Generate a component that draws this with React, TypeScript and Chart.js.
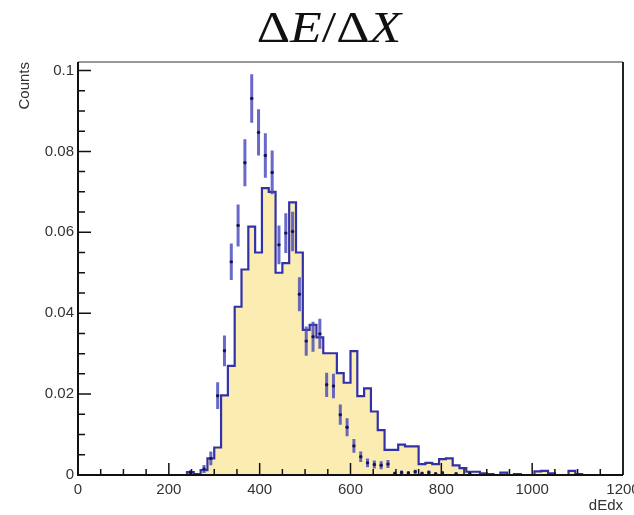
import React, { useEffect, useRef } from 'react';
import { Chart, registerables } from 'chart.js';

Chart.register(...registerables);

// Histogram binning (80 bins, 0..1200)
const BIN_LOW = 0;
const BIN_WIDTH = 15;

// Filled histogram contents per bin (bin 0 .. 79)
const HIST_VALUES = [
  0, 0, 0, 0, 0, 0, 0, 0, 0, 0, 0, 0, 0, 0, 0, 0,
  0.0007, 0.0002, 0.0012, 0.0041, 0.0068, 0.0197, 0.027, 0.0416, 0.0508, 0.0614,
  0.055, 0.0709, 0.07, 0.05, 0.0524, 0.0674, 0.055, 0.0359, 0.0371, 0.034,
  0.0301, 0.0301, 0.0252, 0.0228, 0.0306, 0.0195, 0.0214, 0.0157, 0.0111, 0.0062,
  0.0062, 0.0075, 0.0071, 0.0071, 0.0027, 0.003, 0.0027, 0.0039, 0.0041, 0.0024,
  0.0017, 0.0008, 0.0008, 0.0004, 0.0002, 0, 0.0006, 0, 0.0002, 0,
  0, 0.0009, 0.001, 0.0004, 0, 0, 0.001, 0.0002,
  0, 0, 0, 0, 0, 0,
];

// Data points: bin index, content, error
const DATA_BINS = [
  16, 18, 19, 20, 21, 22, 23, 24, 25, 26, 27, 28, 29, 30, 31, 32, 33, 34, 35, 36,
  37, 38, 39, 40, 41, 42, 43, 44, 45, 46, 47, 48, 49, 50, 51, 52, 53, 55, 57,
];
const DATA_VALUES = [
  0.0006, 0.0015, 0.0041, 0.0196, 0.0307, 0.0527, 0.0617, 0.0772, 0.0931, 0.0847,
  0.079, 0.0748, 0.0569, 0.0598, 0.0602, 0.0447, 0.0331, 0.0342, 0.0349, 0.0223,
  0.022, 0.0149, 0.0118, 0.0072, 0.0045, 0.003, 0.0026, 0.0024, 0.0027, 0.0004,
  0.0006, 0.0005, 0.0008, 0.0004, 0.0006, 0.0003, 0.0005, 0.0003, 0.0004,
];
const DATA_ERRORS = [
  0.0006, 0.001, 0.0017, 0.0033, 0.0038, 0.0045, 0.0052, 0.0058, 0.006, 0.0057,
  0.0055, 0.0054, 0.0048, 0.0049, 0.0049, 0.0042, 0.0036, 0.0037, 0.0037, 0.003,
  0.003, 0.0025, 0.0022, 0.0017, 0.0013, 0.0011, 0.001, 0.001, 0.001, 0.0004,
  0.0005, 0.0004, 0.0005, 0.0004, 0.0005, 0.0003, 0.0004, 0.0003, 0.0004,
];

// Axes
const X_MIN = 0;
const X_MAX = 1200;
const X_MAJOR = 200;
const X_MINOR = 50;
const Y_MIN = 0;
const Y_MAX = 0.1021;
const Y_MAJOR = 0.02;
const Y_MINOR = 0.005;
const X_TITLE = 'dEdx';
const Y_TITLE = 'Counts';

const LABEL_FONT = '"Liberation Sans", Arial, Helvetica, sans-serif';

const rootStyle = {
  id: 'rootStyle',
  beforeDatasetDraw(chart: any, args: any) {
    if (args.meta?._dataset?.label !== 'data') return;
    const { ctx, chartArea, scales } = chart;
    const x = scales.x;
    const y = scales.y;
    ctx.save();
    ctx.beginPath();
    ctx.rect(chartArea.left, chartArea.top, chartArea.right - chartArea.left, chartArea.bottom - chartArea.top);
    ctx.clip();
    ctx.strokeStyle = 'rgba(72,72,190,0.82)';
    ctx.lineWidth = 3;
    ctx.beginPath();
    DATA_BINS.forEach((b, i) => {
      const cx = x.getPixelForValue(BIN_LOW + (b + 0.5) * BIN_WIDTH);
      const v = DATA_VALUES[i];
      const e = DATA_ERRORS[i];
      ctx.moveTo(cx, y.getPixelForValue(Math.max(0, v - e)));
      ctx.lineTo(cx, y.getPixelForValue(v + e));
    });
    ctx.stroke();
    ctx.restore();
  },
  afterDraw(chart: any) {
    const { ctx, chartArea, scales } = chart;
    const x = scales.x;
    const y = scales.y;
    const { left, right, top, bottom } = chartArea;
    ctx.save();
    // ticks
    ctx.strokeStyle = '#111';
    ctx.lineWidth = 1.5;
    ctx.beginPath();
    const xr = Math.round(X_MAJOR / X_MINOR);
    for (let i = 0; X_MIN + i * X_MINOR <= X_MAX + 1e-9; i++) {
      const px = x.getPixelForValue(X_MIN + i * X_MINOR);
      const len = i % xr === 0 ? 12 : 6;
      ctx.moveTo(px, bottom);
      ctx.lineTo(px, bottom - len);
    }
    const yr = Math.round(Y_MAJOR / Y_MINOR);
    for (let i = 0; Y_MIN + i * Y_MINOR <= Y_MAX + 1e-9; i++) {
      const py = y.getPixelForValue(Y_MIN + i * Y_MINOR);
      const len = i % yr === 0 ? 13 : 7;
      ctx.moveTo(left, py);
      ctx.lineTo(left + len, py);
    }
    ctx.stroke();
    // frame
    ctx.lineWidth = 1.5;
    ctx.strokeStyle = '#777';
    ctx.beginPath();
    ctx.moveTo(left, top);
    ctx.lineTo(right, top);
    ctx.stroke();
    ctx.lineWidth = 2;
    ctx.strokeStyle = '#222';
    ctx.beginPath();
    ctx.moveTo(right, top);
    ctx.lineTo(right, bottom);
    ctx.stroke();
    ctx.strokeStyle = '#111';
    ctx.beginPath();
    ctx.moveTo(left, top);
    ctx.lineTo(left, bottom);
    ctx.lineTo(right, bottom);
    ctx.stroke();
    ctx.restore();
  },
};

export default function App() {
  const canvasRef = useRef<HTMLCanvasElement | null>(null);

  useEffect(() => {
    const canvas = canvasRef.current;
    if (!canvas) return;
    const histPoints = HIST_VALUES.map((v, k) => ({ x: BIN_LOW + k * BIN_WIDTH, y: v }));
    histPoints.push({
      x: BIN_LOW + HIST_VALUES.length * BIN_WIDTH,
      y: HIST_VALUES[HIST_VALUES.length - 1],
    });
    const dataPoints = DATA_BINS.map((b, i) => ({
      x: BIN_LOW + (b + 0.5) * BIN_WIDTH,
      y: DATA_VALUES[i],
    }));

    const chart = new Chart(canvas, {
      type: 'line',
      data: {
        datasets: [
          {
            label: 'hist',
            order: 2,
            data: histPoints,
            stepped: 'before',
            fill: 'origin',
            backgroundColor: 'rgb(251,237,178)',
            borderColor: '#3232a8',
            borderWidth: 2.2,
            pointRadius: 0,
            tension: 0,
          },
          {
            label: 'data',
            order: 1,
            data: dataPoints,
            showLine: false,
            pointRadius: 1.7,
            pointStyle: 'circle',
            pointBackgroundColor: '#15154d',
            pointBorderWidth: 0,
            borderColor: '#15154d',
            backgroundColor: '#15154d',
          },
        ],
      },
      options: {
        animation: false,
        responsive: false,
        events: [],
        layout: { padding: { left: 0, top: 62, right: 37, bottom: 0 } },
        plugins: {
          legend: { display: false },
          tooltip: { enabled: false },
          title: { display: false },
        },
        scales: {
          x: {
            type: 'linear',
            min: X_MIN,
            max: X_MAX,
            bounds: 'data',
            grid: { display: false, drawTicks: false },
            border: { display: false },
            ticks: {
              stepSize: X_MAJOR,
              padding: 6,
              autoSkip: false,
              maxRotation: 0,
              color: '#333',
              font: { family: LABEL_FONT, size: 15 },
              callback: (v: any) => String(v),
            },
            title: {
              display: true,
              text: X_TITLE,
              align: 'end',
              color: '#333',
              font: { family: LABEL_FONT, size: 15 },
              padding: { top: 0, bottom: 0 },
            },
            afterFit: (s: any) => {
              s.height = 40;
            },
          },
          y: {
            type: 'linear',
            min: Y_MIN,
            max: Y_MAX,
            bounds: 'data',
            grid: { display: false, drawTicks: false },
            border: { display: false },
            ticks: {
              stepSize: Y_MAJOR,
              includeBounds: false,
              padding: 4,
              color: '#333',
              font: { family: LABEL_FONT, size: 15 },
              callback: (v: any) => {
                const n = Number(v);
                return n === 0 ? '0' : String(parseFloat(n.toFixed(3)));
              },
            },
            title: {
              display: true,
              text: Y_TITLE,
              align: 'end',
              color: '#333',
              font: { family: LABEL_FONT, size: 15 },
              padding: { top: 16, bottom: 0 },
            },
            afterFit: (s: any) => {
              s.width = 78;
            },
          },
        },
      },
      plugins: [rootStyle],
    } as any);

    return () => {
      chart.destroy();
    };
  }, []);

  return (
    <div
      style={{
        position: 'absolute',
        left: 0,
        top: 0,
        width: 634,
        height: 515,
        overflow: 'hidden',
        background: '#fff',
      }}
    >
      <canvas ref={canvasRef} width={660} height={515} style={{ display: 'block' }} />
      <div
        style={{
          position: 'absolute',
          left: 0,
          top: 6,
          width: 658,
          textAlign: 'center',
          fontFamily: '"Liberation Serif", "Times New Roman", serif',
          fontSize: 44,
          lineHeight: 1,
          color: '#111',
          transform: 'scaleX(1.18)',
          transformOrigin: '329px 0',
          whiteSpace: 'nowrap',
        }}
      >
        Δ<i>E</i>/Δ<i>X</i>
      </div>
    </div>
  );
}
